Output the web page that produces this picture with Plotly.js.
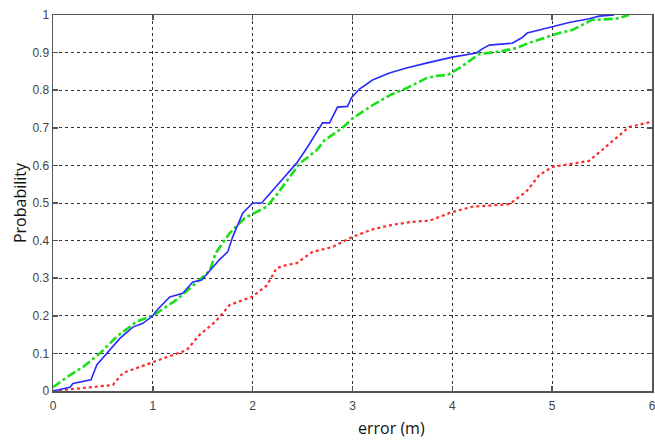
<!DOCTYPE html>
<html>
<head>
<meta charset="utf-8">
<script src="https://cdn.plot.ly/plotly-3.0.1.min.js"></script>
<style>html,body{margin:0;padding:0;background:#fff;}#chart{width:655px;height:440px;}</style>
</head>
<body>
<div id="chart"></div>
<script>
const blueX = [0,0.17,0.2,0.38,0.44,0.57,0.67,0.8,0.9,1.0,1.04,1.17,1.3,1.4,1.49,1.57,1.67,1.75,1.8,1.9,2.0,2.09,2.27,2.44,2.54,2.7,2.77,2.85,2.95,2.99,3.07,3.2,3.37,3.54,3.74,4.0,4.24,4.3,4.37,4.6,4.7,4.75,4.94,5.17,5.37,5.47,5.62];
const blueY = [0,0.01,0.02,0.03,0.07,0.11,0.14,0.17,0.18,0.2,0.215,0.25,0.26,0.29,0.295,0.32,0.35,0.37,0.41,0.473,0.5,0.5,0.553,0.606,0.645,0.713,0.713,0.755,0.757,0.78,0.803,0.827,0.846,0.859,0.872,0.888,0.899,0.91,0.92,0.925,0.94,0.952,0.965,0.98,0.99,0.997,1.0];

const greenX = [0,0.14,0.3,0.47,0.64,0.84,1.0,1.24,1.47,1.57,1.63,1.77,1.92,2.14,2.25,2.37,2.47,2.64,2.72,2.9,3.0,3.2,3.4,3.54,3.74,3.84,3.95,4.07,4.17,4.27,4.5,4.64,4.77,4.97,5.07,5.2,5.3,5.4,5.64,5.77];
const greenY = [0.01,0.037,0.064,0.1,0.145,0.185,0.2,0.243,0.296,0.32,0.367,0.42,0.46,0.49,0.525,0.57,0.605,0.64,0.667,0.70,0.725,0.76,0.79,0.805,0.832,0.838,0.84,0.859,0.878,0.896,0.904,0.912,0.926,0.942,0.952,0.96,0.973,0.987,0.99,1.0];

const redX = [0,0.3,0.6,0.7,0.87,1.0,1.2,1.34,1.47,1.63,1.77,1.99,2.14,2.24,2.34,2.44,2.6,2.8,3.0,3.2,3.4,3.6,3.77,4.0,4.2,4.57,4.74,4.87,5.0,5.17,5.37,5.5,5.64,5.77,5.98];
const redY = [0,0.008,0.016,0.048,0.064,0.077,0.096,0.109,0.15,0.185,0.229,0.25,0.28,0.327,0.335,0.34,0.37,0.383,0.41,0.43,0.442,0.45,0.453,0.476,0.49,0.497,0.53,0.574,0.596,0.604,0.612,0.641,0.672,0.702,0.715];

const xTicks = [0,1,2,3,4,5,6];
const xTickText = ["0","1","2","3","4","5","6"];
const yTicks = [0,0.1,0.2,0.3,0.4,0.5,0.6,0.7,0.8,0.9,1];
const yTickText = ["0","0.1","0.2","0.3","0.4","0.5","0.6","0.7","0.8","0.9","1"];

const traces = [
  {x: redX, y: redY, mode: 'lines', line: {color: '#ff2a2a', width: 2.2, dash: 'dot'}},
  {x: greenX, y: greenY, mode: 'lines', line: {color: '#18e018', width: 2.6, dash: 'dashdot'}},
  {x: blueX, y: blueY, mode: 'lines', line: {color: '#2a2aff', width: 1.6}}
];

const tickFont = {family: '"Liberation Sans Narrow", "Liberation Sans", Arial, sans-serif', size: 12, color: '#444'};
const axisCommon = {
  showline: true, linecolor: '#555', linewidth: 1.5, mirror: 'ticks',
  ticks: 'inside', ticklen: 5, tickcolor: '#555', tickwidth: 1.5,
  showgrid: true, gridcolor: '#333', gridwidth: 1, griddash: 'dot',
  zeroline: false, tickfont: tickFont, fixedrange: true, ticklabeloverflow: 'allow'
};

const layout = {
  width: 655, height: 440,
  margin: {l: 53, r: 3, t: 15, b: 49},
  paper_bgcolor: '#ffffff', plot_bgcolor: '#ffffff',
  showlegend: false,
  xaxis: Object.assign({}, axisCommon, {range: [0, 6], tickvals: xTicks, ticktext: xTickText, ticklabelstandoff: 3}),
  yaxis: Object.assign({}, axisCommon, {range: [0, 1], tickvals: yTicks, ticktext: yTickText}),
  annotations: [
    {text: 'error (m)', xref: 'paper', yref: 'paper', x: 0.565, y: -0.098, xanchor: 'center', yanchor: 'middle', showarrow: false,
     font: {family: '"Open Sans", "Noto Sans", sans-serif', size: 16, color: '#111'}},
    {text: 'Probability', xref: 'paper', yref: 'paper', x: -0.055, y: 0.5, xanchor: 'center', yanchor: 'middle', textangle: -90, showarrow: false,
     font: {family: '"Open Sans", "Noto Sans", sans-serif', size: 16, color: '#111'}}
  ]
};

Plotly.newPlot('chart', traces, layout, {staticPlot: true, displayModeBar: false});
</script>
</body>
</html>
